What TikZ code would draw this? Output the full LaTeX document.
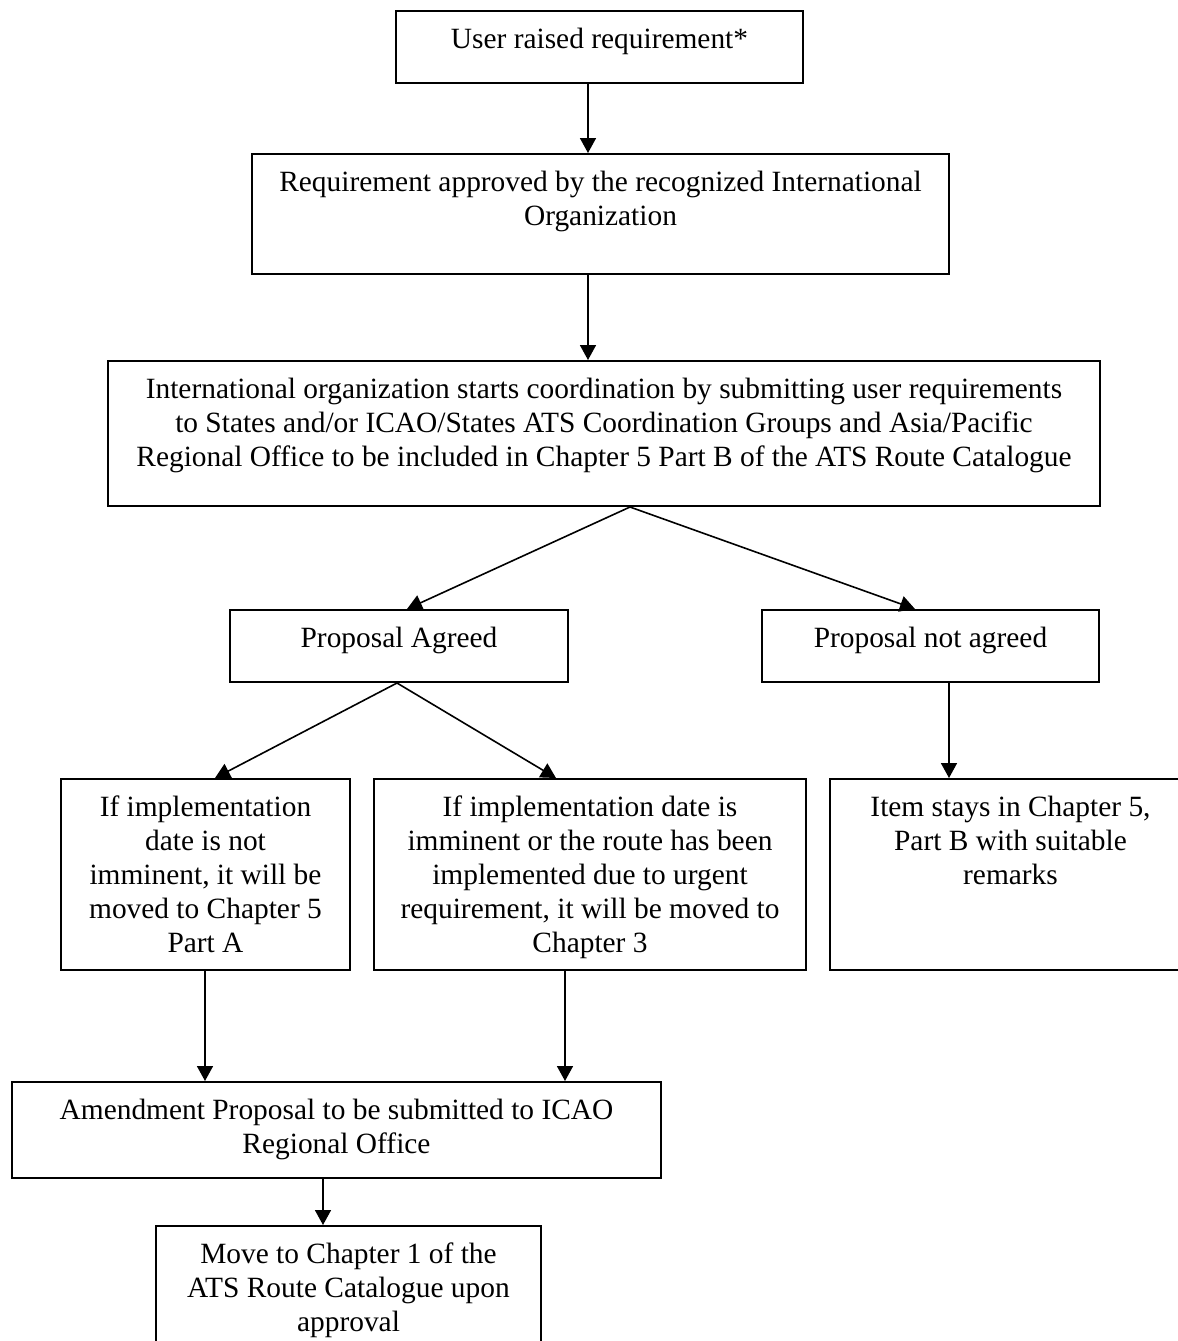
\documentclass[tikz,border=0pt]{standalone}
\usepackage{fontspec}
\setmainfont{Liberation Serif}
\usetikzlibrary{arrows.meta}
\newcommand{\bxt}[3]{\parbox[c][#2][t]{#1}{\centering\vspace*{7pt}\strut #3\par}}
\begin{document}
\begin{tikzpicture}[x=0.5pt,y=-0.5pt,
  box/.style={draw, line width=1pt, inner sep=0pt, anchor=north west,
    font=\fontsize{14.7}{17}\selectfont},
  arr/.style={line width=0.8pt, -{Triangle[width=8pt,length=7.5pt]}}]
\useasboundingbox (0,0) rectangle (1178,1341);
\fill[white] (0,0) rectangle (1178,1341);
\clip (0,0) rectangle (1178,1341);
% x positions of connectors
\coordinate (x1) at (588,0);
\coordinate (x3) at (630,0);
\coordinate (x4a) at (407,0);
\coordinate (x5a) at (915,0);
\coordinate (x4) at (397,0);
\coordinate (x6a) at (215,0);
\coordinate (x7a) at (556,0);
\coordinate (x58) at (949,0);
\coordinate (x69) at (205,0);
\coordinate (x79) at (565,0);
\coordinate (x910) at (323,0);
% boxes
\node[box] (b1) at (395,10) {\bxt{203.5pt}{36pt}{User raised requirement*}};
\node[box] (b2) at (251,153) {\bxt{348.5pt}{60pt}{Requirement approved by the recognized International\\Organization}};
\node[box] (b3) at (107,360) {\bxt{496pt}{72.5pt}{International organization starts coordination by submitting user requirements\\to States and/or ICAO/States ATS Coordination Groups and Asia/Pacific\\Regional Office to be included in Chapter 5 Part B of the ATS Route Catalogue}};
\node[box] (b4) at (229,609) {\bxt{169pt}{36pt}{Proposal Agreed}};
\node[box] (b5) at (761,609) {\bxt{168.5pt}{36pt}{Proposal not agreed}};
\node[box] (b6) at (60,778) {\bxt{144.5pt}{95.5pt}{If implementation\\date is not\\imminent, it will be\\moved to Chapter 5\\Part A}};
\node[box] (b7) at (373,778) {\bxt{216pt}{95.5pt}{If implementation date is\\imminent or the route has been\\implemented due to urgent\\requirement, it will be moved to\\Chapter 3}};
\node[box] (b8) at (829,778) {\bxt{180.5pt}{95.5pt}{Item stays in Chapter 5,\\Part B with suitable\\remarks}};
\node[box] (b9) at (11,1081) {\bxt{324.5pt}{48pt}{Amendment Proposal to be submitted to ICAO\\Regional Office}};
\node[box] (b10) at (155,1225) {\bxt{192.5pt}{70pt}{Move to Chapter 1 of the\\ATS Route Catalogue upon\\approval}};
% connectors
\draw[arr] (b1.south -| x1) -- (b2.north -| x1);
\draw[arr] (b2.south -| x1) -- (b3.north -| x1);
\draw[arr] (b3.south -| x3) -- (b4.north -| x4a);
\draw[arr] (b3.south -| x3) -- (b5.north -| x5a);
\draw[arr] (b4.south -| x4) -- (b6.north -| x6a);
\draw[arr] (b4.south -| x4) -- (b7.north -| x7a);
\draw[arr] (b5.south -| x58) -- (b8.north -| x58);
\draw[arr] (b6.south -| x69) -- (b9.north -| x69);
\draw[arr] (b7.south -| x79) -- (b9.north -| x79);
\draw[arr] (b9.south -| x910) -- (b10.north -| x910);
\end{tikzpicture}
\end{document}
